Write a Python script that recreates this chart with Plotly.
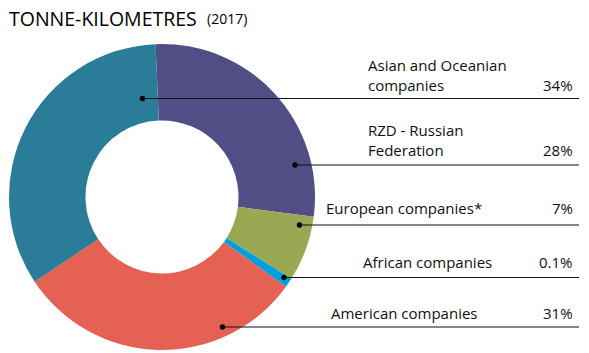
import plotly.graph_objects as go

W, H = 589, 353

# ---- data ----
labels = ["RZD - Russian<br>Federation", "European companies*", "African companies",
          "American companies", "Asian and Oceanian<br>companies"]
values = [28, 7, 1, 31, 34]          # slice shares as drawn
pct_text = ["28%", "7%", "0.1%", "31%", "34%"]
colors = ["#514E85", "#9AA853", "#009FDF", "#E46153", "#2B7C98"]

# ---- layout helpers (pixel geometry) ----
cx, cy, R = 162, 197, 153
def px(x): return x / W
def py(y): return 1 - y / H

# callouts: (dot x, line y, label anchor x, label anchor side, label y, pct y)
callouts = [
    (295, 165, 366, "left", 140, 150),
    (299.5, 225, 324, "left", 208, 208),
    (284, 277.5, 494, "right", 262, 262),
    (222.5, 327, 480, "right", 313, 313),
    (142.5, 98.5, 366, "left", 75, 85),
]
line_end = 579
pct_right = 575

fig = go.Figure(go.Pie(
    labels=labels, values=values, sort=False, direction="clockwise",
    rotation=-2.4, hole=0.5, textinfo="none", hoverinfo="none",
    marker=dict(colors=colors, line=dict(width=0)),
    domain=dict(x=[px(cx - R), px(cx + R)], y=[py(cy + R), py(cy - R)]),
    showlegend=False,
))

shapes, annotations = [], []
font = dict(family="Open Sans", size=15, color="#111")
for (dx, ly, tx, side, ty, pty), lab, pct in zip(callouts, labels, pct_text):
    shapes.append(dict(type="line", xref="paper", yref="paper",
                       x0=px(dx), x1=px(line_end), y0=py(ly), y1=py(ly),
                       line=dict(color="#111", width=1.2)))
    r = 2.7
    shapes.append(dict(type="circle", xref="paper", yref="paper",
                       x0=px(dx - r), x1=px(dx + r), y0=py(ly + r), y1=py(ly - r),
                       fillcolor="#000", line=dict(width=0)))
    annotations.append(dict(text=lab, xref="paper", yref="paper", x=px(tx), y=py(ty),
                            xanchor=side, yanchor="middle", showarrow=False,
                            align=side, font=font))
    annotations.append(dict(text=pct, xref="paper", yref="paper", x=px(pct_right), y=py(pty),
                            xanchor="right", yanchor="middle", showarrow=False, font=font))

annotations.append(dict(text="TONNE-KILOMETRES", xref="paper", yref="paper",
                        x=px(7), y=py(18), xanchor="left", yanchor="middle",
                        showarrow=False, font=dict(family="Open Sans", size=19.5, color="#000")))
annotations.append(dict(text="(2017)", xref="paper", yref="paper",
                        x=px(205), y=py(19), xanchor="left", yanchor="middle",
                        showarrow=False, font=dict(family="Open Sans", size=14, color="#000")))

fig.update_layout(width=W, height=H, autosize=False,
                  margin=dict(l=0, r=0, t=0, b=0),
                  paper_bgcolor="white", plot_bgcolor="white",
                  shapes=shapes, annotations=annotations)

fig.write_html("out.html")
